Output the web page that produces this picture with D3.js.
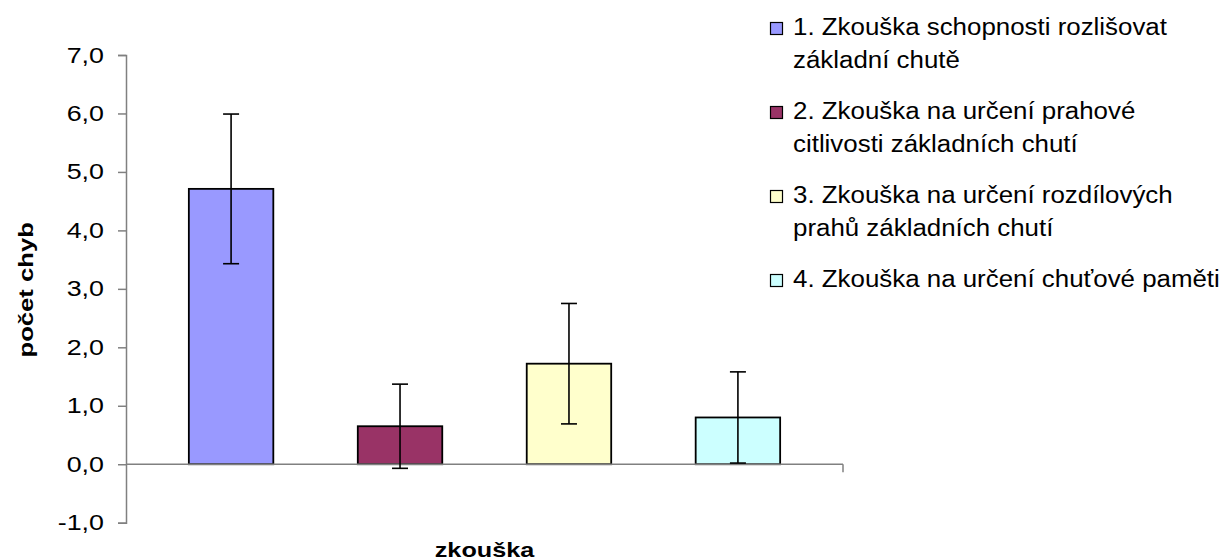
<!DOCTYPE html>
<html>
<head>
<meta charset="utf-8">
<script src="https://cdn.jsdelivr.net/npm/d3@7"></script>
<style>
  body { margin: 0; background: #fff; }
  svg { display: block; font-family: "Liberation Sans", Arial, sans-serif; }
</style>
</head>
<body>
<svg id="chart" width="1223" height="560"></svg>
<script>
const series = [
  "1. Zkouška schopnosti rozlišovat základní chutě",
  "2. Zkouška na určení prahové citlivosti základních chutí",
  "3. Zkouška na určení rozdílových prahů základních chutí",
  "4. Zkouška na určení chuťové paměti",
];
const legendLines = [
  ["1. Zkouška schopnosti rozlišovat", "základní chutě"],
  ["2. Zkouška na určení prahové", "citlivosti základních chutí"],
  ["3. Zkouška na určení rozdílových", "prahů základních chutí"],
  ["4. Zkouška na určení chuťové paměti"],
];
const means = [4.71, 0.65, 1.72, 0.80];
const errors = [1.28, 0.72, 1.03, 0.78];
const colors = ["#9999FF", "#993366", "#FFFFCC", "#CCFFFF"];
const yTicks = [-1, 0, 1, 2, 3, 4, 5, 6, 7];

const svg = d3.select("#chart");

const plot = { left: 126, right: 843, top: 55, bottom: 522.7 };

const y = d3.scaleLinear()
  .domain([-1, 7])
  .range([plot.bottom, plot.top]);

const x = d3.scaleBand()
  .domain(series)
  .range([plot.left, plot.right])
  .paddingInner(0.5)
  .paddingOuter(0.372);

// Czech decimal comma, plain hyphen for minus
const fmt = (d) => d3.format(".1f")(d).replace(".", ",").replace("\u2212", "-");

// the original renders its glyphs a bit wider than Liberation Sans
function widen(sel, k) {
  sel.each(function () {
    const len = this.getComputedTextLength();
    d3.select(this)
      .attr("textLength", len * k)
      .attr("lengthAdjust", "spacingAndGlyphs");
  });
}

// y axis
const yAxis = svg.append("g")
  .attr("transform", `translate(${plot.left},0)`)
  .call(d3.axisLeft(y).tickValues(yTicks).tickFormat(fmt).tickSize(8).tickPadding(14));
yAxis.select(".domain").attr("stroke", "#808080").attr("stroke-width", 1.5);
yAxis.selectAll(".tick line").attr("stroke", "#808080").attr("stroke-width", 1.5);
yAxis.selectAll(".tick text")
  .attr("font-size", 22)
  .attr("fill", "#000")
  .attr("font-family", "Liberation Sans, Arial, sans-serif")
  .call(widen, 1.22);

// bars
svg.append("g")
  .selectAll("rect")
  .data(series)
  .join("rect")
  .attr("x", (d) => x(d))
  .attr("width", x.bandwidth())
  .attr("y", (d, i) => y(Math.max(0, means[i])))
  .attr("height", (d, i) => Math.abs(y(means[i]) - y(0)))
  .attr("fill", (d, i) => colors[i])
  .attr("stroke", "#000")
  .attr("stroke-width", 1.8);

// x axis line at zero
svg.append("line")
  .attr("x1", plot.left)
  .attr("x2", plot.right)
  .attr("y1", y(0))
  .attr("y2", y(0))
  .attr("stroke", "#808080")
  .attr("stroke-width", 1.5);
svg.append("line")
  .attr("x1", plot.right)
  .attr("x2", plot.right)
  .attr("y1", y(0))
  .attr("y2", y(0) + 8)
  .attr("stroke", "#808080")
  .attr("stroke-width", 1.5);

// error bars
const err = svg.append("g")
  .selectAll("g")
  .data(series)
  .join("g")
  .attr("stroke", "#000")
  .attr("stroke-width", 1.6);
const cx = (d) => x(d) + x.bandwidth() / 2;
err.append("line")
  .attr("x1", cx).attr("x2", cx)
  .attr("y1", (d, i) => y(means[i] - errors[i]))
  .attr("y2", (d, i) => y(means[i] + errors[i]));
err.append("line")
  .attr("x1", (d) => cx(d) - 8).attr("x2", (d) => cx(d) + 8)
  .attr("y1", (d, i) => y(means[i] + errors[i]))
  .attr("y2", (d, i) => y(means[i] + errors[i]));
err.append("line")
  .attr("x1", (d) => cx(d) - 8).attr("x2", (d) => cx(d) + 8)
  .attr("y1", (d, i) => y(means[i] - errors[i]))
  .attr("y2", (d, i) => y(means[i] - errors[i]));

// axis titles
svg.append("text")
  .attr("transform", `translate(33,${(plot.top + plot.bottom) / 2 + 1}) rotate(-90)`)
  .attr("text-anchor", "middle")
  .attr("font-size", 21)
  .attr("font-weight", "bold")
  .text("počet chyb")
  .call(widen, 1.22);

svg.append("text")
  .attr("x", (plot.left + plot.right) / 2)
  .attr("y", 557)
  .attr("text-anchor", "middle")
  .attr("font-size", 21)
  .attr("font-weight", "bold")
  .text("zkouška")
  .call(widen, 1.2);

// legend
const legend = svg.append("g")
  .selectAll("g")
  .data(series)
  .join("g")
  .attr("transform", (d, i) => `translate(770,${35 + i * 84})`);
legend.append("rect")
  .attr("x", 0.5)
  .attr("y", -12.5)
  .attr("width", 12)
  .attr("height", 12)
  .attr("fill", (d, i) => colors[i])
  .attr("stroke", "#000")
  .attr("stroke-width", 1.2);
legend.selectAll("text")
  .data((d, i) => legendLines[i])
  .join("text")
  .attr("x", 23)
  .attr("y", (d, j) => j * 33)
  .attr("font-size", 23)
  .text((d) => d)
  .call(widen, 1.125);
</script>
</body>
</html>
